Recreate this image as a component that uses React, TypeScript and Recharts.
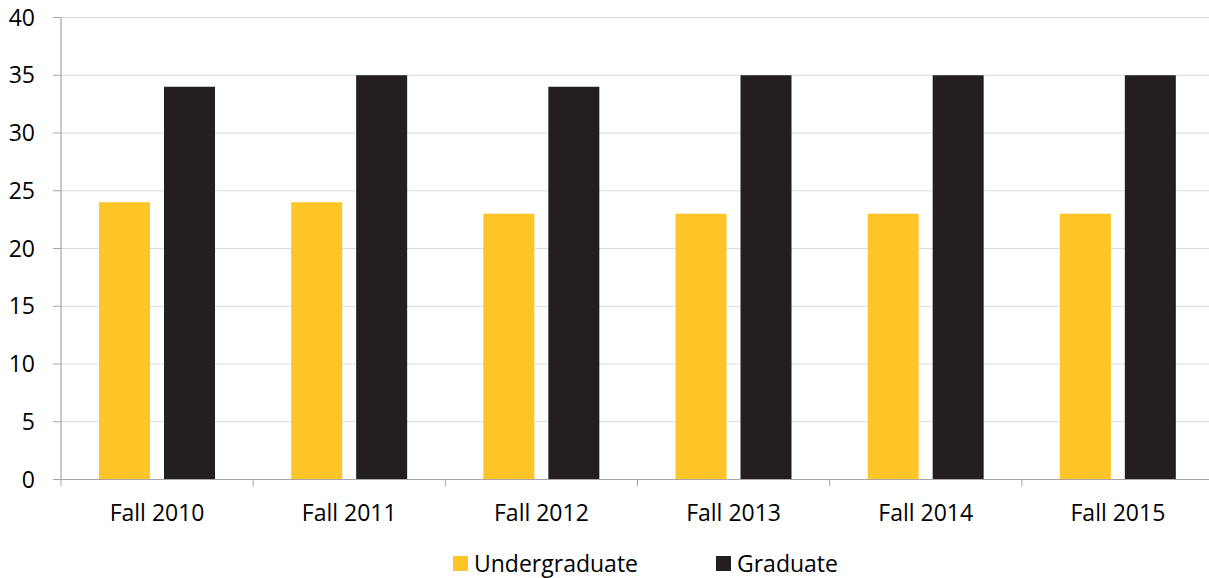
import React from "react";
import { BarChart, Bar, XAxis, YAxis, CartesianGrid } from "recharts";

const categories = ["Fall 2010", "Fall 2011", "Fall 2012", "Fall 2013", "Fall 2014", "Fall 2015"];
const undergraduate = [24, 24, 23, 23, 23, 23];
const graduate = [34, 35, 34, 35, 35, 35];
const yTicks = [0, 5, 10, 15, 20, 25, 30, 35, 40];
const seriesNames = ["Undergraduate", "Graduate"];

const data = categories.map((c, i) => ({
  name: c,
  Undergraduate: undergraduate[i],
  Graduate: graduate[i],
}));

const CHART_W = 1230;
const CHART_H = 578;
const MARGIN = { top: 17.5, right: 16, left: 0, bottom: 48.5 };
const Y_AXIS_W = 61;
const X_AXIS_H = 50;
const PLOT_W = CHART_W - MARGIN.left - MARGIN.right - Y_AXIS_W;
const HALF_BAND = PLOT_W / categories.length / 2;

const FONT = "'Open Sans', sans-serif";
const FONT_SIZE = 23;
const YELLOW = "#FFC425";
const DARK = "#231F20";
const AXIS = "#A6A6A6";
const seriesColors = [YELLOW, DARK];

const XTick = (props: any) => {
  const { x, y, payload } = props;
  return (
    <g>
      <line x1={x - HALF_BAND} x2={x - HALF_BAND} y1={y} y2={y + 7} stroke={AXIS} strokeWidth={1} />
      <text x={x} y={y + 41} textAnchor="middle" fill="#000" fontFamily={FONT} fontSize={FONT_SIZE}>
        {payload.value}
      </text>
    </g>
  );
};

export default function App() {
  return (
    <div style={{ position: "absolute", left: 0, top: 0, width: 1209, height: 578, overflow: "hidden", background: "#fff" }}>
      <BarChart width={CHART_W} height={CHART_H} data={data} margin={MARGIN} barSize={51} barGap={14}>
        <CartesianGrid vertical={false} stroke="#D9D9D9" strokeWidth={1.2} />
        <XAxis
          dataKey="name"
          height={X_AXIS_H}
          axisLine={{ stroke: AXIS, strokeWidth: 1.2 }}
          tickLine={false}
          tickSize={0}
          tickMargin={0}
          tick={<XTick />}
          interval={0}
        />
        <YAxis
          width={Y_AXIS_W}
          domain={[0, 40]}
          ticks={yTicks}
          interval={0}
          axisLine={{ stroke: AXIS, strokeWidth: 1.2 }}
          tickLine={{ stroke: AXIS }}
          tickSize={8}
          tickMargin={18}
          tick={{ fill: "#000", fontFamily: FONT, fontSize: FONT_SIZE }}
        />
        <Bar dataKey="Undergraduate" fill={YELLOW} isAnimationActive={false} />
        <Bar dataKey="Graduate" fill={DARK} isAnimationActive={false} />
      </BarChart>
      <div
        style={{
          position: "absolute",
          left: 0,
          width: 1209,
          top: 547,
          height: 32,
          display: "flex",
          justifyContent: "center",
          alignItems: "center",
          fontFamily: FONT,
          fontSize: FONT_SIZE,
          color: "#000",
          paddingLeft: 82,
          boxSizing: "border-box",
        }}
      >
        {seriesNames.map((n, i) => (
          <div key={n} style={{ display: "flex", alignItems: "center", marginLeft: i === 0 ? 0 : 78 }}>
            <span style={{ display: "inline-block", width: 15, height: 15, background: seriesColors[i], marginRight: 6 }} />
            <span style={{ lineHeight: "32px" }}>{n}</span>
          </div>
        ))}
      </div>
    </div>
  );
}
